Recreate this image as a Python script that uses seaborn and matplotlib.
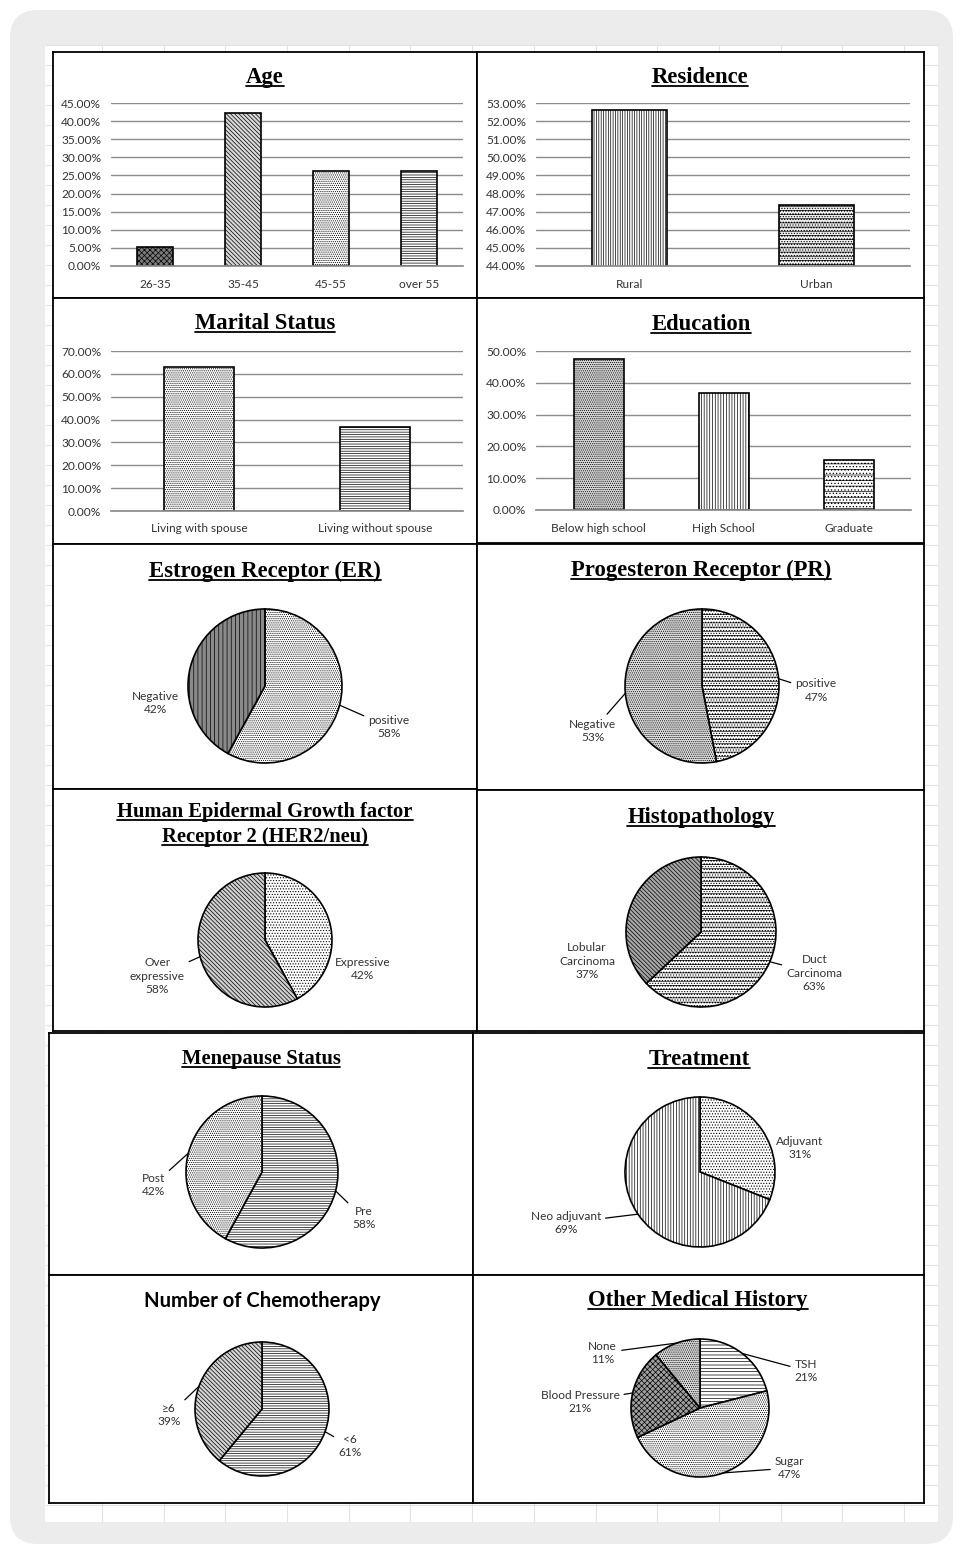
import matplotlib
matplotlib.use("Agg")
import matplotlib.pyplot as plt
from matplotlib.patches import FancyBboxPatch, Rectangle
from matplotlib.ticker import FuncFormatter
import numpy as np
import seaborn as sns

sns.set_theme(style="white")
plt.rcParams["font.family"] = ["Lato", "DejaVu Sans"]
plt.rcParams["hatch.linewidth"] = 0.5

W, H = 963, 1554

# ---- data ----
age_cats = ["26-35", "35-45", "45-55", "over 55"]
age_vals = [5.26, 42.11, 26.32, 26.32]
res_cats = ["Rural", "Urban"]
res_vals = [52.63, 47.37]
mar_cats = ["Living with spouse", "Living without spouse"]
mar_vals = [63.16, 36.84]
edu_cats = ["Below high school", "High School", "Graduate"]
edu_vals = [47.37, 36.84, 15.79]

er_labels = ["positive", "Negative"]
er_vals = [58, 42]
pr_labels = ["positive", "Negative"]
pr_vals = [47, 53]
her2_labels = ["Expressive", "Over\nexpressive"]
her2_vals = [42, 58]
histo_labels = ["Duct\nCarcinoma", "Lobular\nCarcinoma"]
histo_vals = [63, 37]
meno_labels = ["Pre", "Post"]
meno_vals = [58, 42]
treat_labels = ["Adjuvant", "Neo adjuvant"]
treat_vals = [31, 69]
chemo_labels = ["<6", "≥6"]
chemo_vals = [61, 39]
other_labels = ["TSH", "Sugar", "Blood Pressure", "None"]
other_vals = [21, 47, 21, 11]

fig = plt.figure(figsize=(W / 100, H / 100), dpi=100, facecolor="white")


def px_rect(x0, y0, x1, y1):
    return [x0 / W, 1 - y1 / H, (x1 - x0) / W, (y1 - y0) / H]


# background: grey rounded sheet + white spreadsheet with faint cell lines
bg = fig.add_axes([0, 0, 1, 1], zorder=-10)
bg.set_xlim(0, W)
bg.set_ylim(H, 0)
bg.axis("off")
bg.add_patch(FancyBboxPatch((10, 10), W - 20, H - 20,
                            boxstyle="round,pad=0,rounding_size=28",
                            facecolor="#ececec", edgecolor="none"))
bg.add_patch(Rectangle((45, 45), 893, 1477, facecolor="white", edgecolor="none"))
bg.vlines(np.arange(102, 938, 61.7), 45, 1522, color="#e2e2e2", lw=0.8)
bg.hlines(np.arange(45, 1522, 20), 45, 938, color="#e2e2e2", lw=0.8)

top = fig.add_axes([0, 0, 1, 1], zorder=10)
top.set_xlim(0, W)
top.set_ylim(H, 0)
top.axis("off")


def panel(x0, y0, x1, y1):
    ax = fig.add_axes(px_rect(x0, y0, x1, y1))
    ax.set_xticks([])
    ax.set_yticks([])
    ax.set_facecolor("white")
    for s in ax.spines.values():
        s.set_visible(True)
        s.set_color("black")
        s.set_linewidth(1.3)
    return ax


titles = []


def title(text, cx, base, size=16.3, serif=True, underline=True):
    fam = ["Liberation Serif"] if serif else ["Lato", "DejaVu Sans"]
    t = top.text(cx, base, text, ha="center", va="baseline", fontsize=size,
                 fontweight="bold", family=fam, color="black")
    if underline:
        titles.append((t, base))


def bar_chart(rect, cats, vals, ylo, yhi, step, hatches, faces):
    ax = fig.add_axes(px_rect(*rect))
    sns.barplot(x=cats, y=vals, ax=ax, width=0.4, color="white",
                edgecolor="black", linewidth=1.2, errorbar=None)
    for p, h, f in zip(ax.patches, hatches, faces):
        p.set_hatch(h)
        p.set_facecolor(f)
    ax.set_ylim(ylo, yhi)
    ax.set_yticks(np.arange(ylo, yhi + step / 2, step))
    ax.yaxis.set_major_formatter(FuncFormatter(lambda v, _: f"{v:.2f}%"))
    ax.grid(axis="y", color="#8c8c8c", lw=1)
    ax.set_axisbelow(True)
    for s in ["top", "right", "left"]:
        ax.spines[s].set_visible(False)
    ax.spines["bottom"].set_color("#8c8c8c")
    ax.tick_params(length=0, labelsize=8.6, colors="#333333")
    ax.tick_params(axis="y", pad=7)
    ax.tick_params(axis="x", pad=9)
    ax.set_facecolor("none")
    ax.set_xlabel("")
    ax.set_ylabel("")
    return ax


def pie_chart(cx, cy, r, vals, labels, hatches, faces, offsets, leaders):
    ax = fig.add_axes(px_rect(cx - r, cy - r, cx + r, cy + r))
    wedges, _ = ax.pie(vals, startangle=90, counterclock=False, colors=faces,
                       wedgeprops=dict(edgecolor="black", linewidth=1.2))
    for w, h in zip(wedges, hatches):
        w.set_hatch(h)
    ax.set_xlim(-1, 1)
    ax.set_ylim(-1, 1)
    for w, lab, v, (dx, dy), ld in zip(wedges, labels, vals, offsets, leaders):
        mid = np.deg2rad((w.theta1 + w.theta2) / 2)
        ap = dict(arrowstyle="-", lw=0.9, color="black", shrinkA=1, shrinkB=0) if ld else None
        ax.annotate(f"{lab}\n{v}%", xy=(np.cos(mid), np.sin(mid)), xytext=(dx, dy),
                    ha="center", va="center", fontsize=8.6, color="#333333",
                    linespacing=1.25, annotation_clip=False, arrowprops=ap)
    return ax


DOTS = "........"
DIAG = "\\\\\\\\\\\\\\\\"
DASH = "----......"

# ---- row 1 ----
panel(53, 52, 477, 298)
title("Age", 265, 83)
bar_chart((111, 103, 463, 266), age_cats, age_vals, 0, 45, 5,
          ["xxxxxx", DIAG, DOTS, "-------"],
          ["#7a7a7a", "#d8d8d8", "white", "white"])

panel(477, 52, 924, 298)
title("Residence", 700, 83)
bar_chart((536, 103, 910, 266), res_cats, res_vals, 44, 53, 1,
          ["|||||||", DASH], ["white", "#eeeeee"])

# ---- row 2 ----
panel(53, 298, 477, 544)
title("Marital Status", 265, 329)
bar_chart((111, 351, 463, 511), mar_cats, mar_vals, 0, 70, 10,
          [DOTS, "-------"], ["white", "white"])

panel(477, 298, 924, 543)
title("Education", 701, 330)
bar_chart((536, 351, 911, 510), edu_cats, edu_vals, 0, 50, 10,
          [DOTS, "||||||", "---....."], ["#d8d8d8", "white", "white"])

# ---- row 3 ----
panel(53, 544, 477, 789)
title("Estrogen Receptor (ER)", 265, 577)
pie_chart(265, 686, 77, er_vals, er_labels, [DOTS, "||||"], ["white", "#8a8a8a"],
          [(1.61, -0.53), (-1.42, -0.22)], [True, False])

panel(477, 544, 924, 790)
title("Progesteron Receptor (PR)", 701, 576)
pie_chart(702, 686, 77, pr_vals, pr_labels, [DASH, DOTS], ["white", "#dedede"],
          [(1.48, -0.06), (-1.42, -0.58)], [True, True])

# ---- row 4 ----
panel(53, 789, 477, 1031)
title("Human Epidermal Growth factor", 265, 817, size=14.8)
title("Receptor 2 (HER2/neu)", 265, 842, size=14.8)
pie_chart(265, 940, 67, her2_vals, her2_labels, ["......", DIAG], ["white", "#d0d0d0"],
          [(1.46, -0.43), (-1.61, -0.54)], [False, True])

panel(477, 790, 924, 1031)
title("Histopathology", 701, 823)
pie_chart(701, 932, 75, histo_vals, histo_labels, [DASH, DIAG], ["white", "#a8a8a8"],
          [(1.51, -0.55), (-1.52, -0.39)], [True, False])

# ---- row 5 ----
panel(49, 1033, 473, 1275)
title("Menepause Status", 261, 1064, size=14.8)
pie_chart(262, 1172, 76, meno_vals, meno_labels, ["-------", DOTS], ["white", "white"],
          [(1.34, -0.61), (-1.43, -0.17)], [True, True])

panel(473, 1033, 924, 1275)
title("Treatment", 699, 1065)
pie_chart(700, 1172, 75, treat_vals, treat_labels, ["......", "||||||"], ["white", "white"],
          [(1.33, 0.32), (-1.79, -0.68)], [False, True])

# ---- row 6 ----
panel(49, 1275, 473, 1503)
title("Number of Chemotherapy", 262, 1307, size=14.6, serif=False, underline=False)
pie_chart(262, 1409, 67, chemo_vals, chemo_labels, ["-------", DIAG], ["white", "#d5d5d5"],
          [(1.31, -0.55), (-1.39, -0.09)], [True, True])

panel(473, 1275, 924, 1503)
title("Other Medical History", 698, 1306)
pie_chart(700, 1408, 69, other_vals, other_labels, ["-----", DOTS, "xxxxxx", DOTS],
          ["white", "white", "#a0a0a0", "#dcdcdc"],
          [(1.54, 0.54), (1.30, -0.87), (-1.74, 0.09), (-1.41, 0.80)],
          [True, True, True, True])

# underline the serif titles
fig.canvas.draw()
renderer = fig.canvas.get_renderer()
for t, base in titles:
    bb = t.get_window_extent(renderer)
    top.plot([bb.x0, bb.x1], [base + 3, base + 3], color="black", lw=1.3)

fig.savefig("out.png", dpi=100)
